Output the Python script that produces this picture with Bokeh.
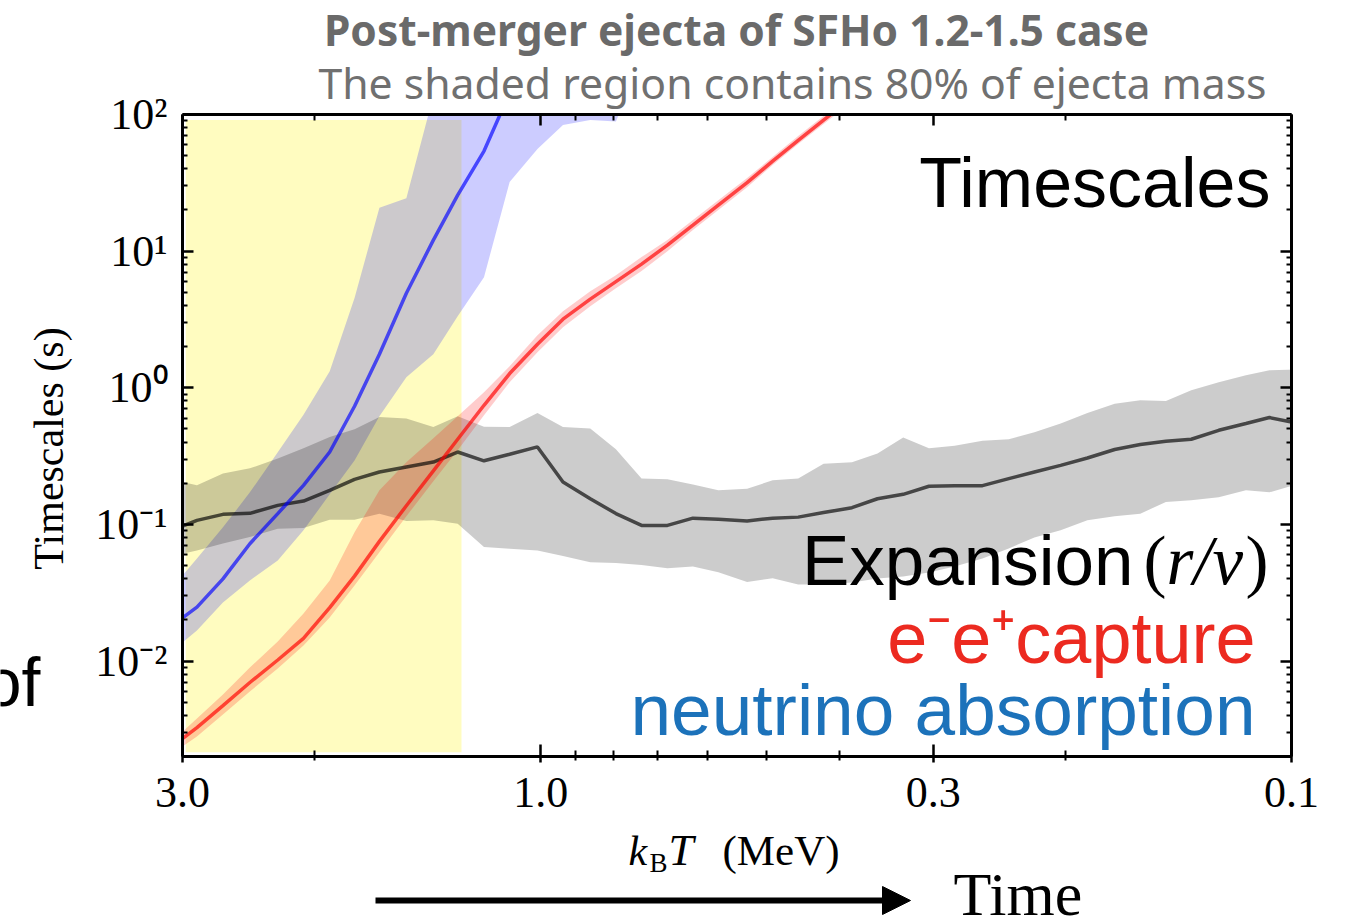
import math
from bokeh.plotting import figure
from bokeh.models import (Range1d, FixedTicker, CustomJSTickFormatter, LogAxis,
                          Label, Arrow, NormalHead)
from bokeh.embed import file_html
from bokeh.resources import INLINE

# ---------------- data (kT in MeV, timescales in s) ----------------
T_grid = [3.0, 2.87, 2.65, 2.44, 2.24, 2.07, 1.91, 1.77, 1.64, 1.51,
          1.39, 1.29, 1.19, 1.10, 1.01, 0.934, 0.859, 0.794, 0.734, 0.678,
          0.627, 0.580, 0.531, 0.491, 0.454, 0.420, 0.385, 0.356, 0.329, 0.304,
          0.281, 0.258, 0.238, 0.220, 0.203, 0.187, 0.172, 0.159, 0.147, 0.136,
          0.125, 0.115, 0.107, 0.0985]

expansion_mid = [0.0972, 0.1070, 0.1184, 0.1204, 0.1378, 0.1482, 0.1774, 0.2137, 0.2416, 0.2630,
                 0.2860, 0.3385, 0.292, 0.326, 0.369, 0.204, 0.154, 0.120, 0.0983, 0.0983,
                 0.111, 0.109, 0.106, 0.111, 0.113, 0.122, 0.1325, 0.154, 0.166, 0.190,
                 0.192, 0.192, 0.216, 0.242, 0.2705, 0.306, 0.353, 0.384, 0.406, 0.420,
                 0.488, 0.547, 0.605, 0.552]
expansion_hi = [0.204, 0.193, 0.236, 0.257, 0.304, 0.360, 0.436, 0.497, 0.611, 0.595,
                0.516, 0.618, 0.518, 0.516, 0.654, 0.516, 0.503, 0.354, 0.217, 0.214,
                0.196, 0.1775, 0.1826, 0.210, 0.217, 0.278, 0.2845, 0.330, 0.4316, 0.360,
                0.376, 0.409, 0.4195, 0.472, 0.547, 0.654, 0.763, 0.810, 0.800, 0.959,
                1.097, 1.235, 1.343, 1.36]
expansion_lo = [0.0610, 0.0645, 0.0726, 0.0807, 0.0930, 0.0940, 0.1082, 0.1082, 0.1198, 0.1057,
                0.1070, 0.1012, 0.0682, 0.0664, 0.0645, 0.0586, 0.0529, 0.0522, 0.0505, 0.0478,
                0.0492, 0.0447, 0.0378, 0.0404, 0.0363, 0.0363, 0.0376, 0.0402, 0.0416, 0.0445,
                0.0492, 0.0563, 0.0667, 0.0803, 0.0904, 0.1070, 0.1145, 0.1198, 0.1457, 0.1499,
                0.1577, 0.1775, 0.1715, 0.196]

capture_T = T_grid[:27]
capture_mid = [0.002705, 0.003257, 0.00472, 0.00696, 0.01017, 0.01462, 0.0246, 0.0418, 0.0751, 0.1369,
               0.2466, 0.4195, 0.744, 1.270, 2.083, 3.176, 4.45, 5.98, 8.03, 11.07,
               15.5, 21.7, 31.7, 45.6, 64.7, 91.1, 132.7]
capture_hi = [0.00304, 0.00379, 0.00568, 0.00896, 0.0139, 0.0223, 0.0389, 0.0874, 0.1774, 0.2845,
              0.4266, 0.618, 0.927, 1.437, 2.424, 3.634, 5.09, 6.67, 9.04, 12.04,
              16.9, 23.6, 34.3, 48.8, 69.6, 97.5, 141.0]
capture_lo = [0.002364, 0.0028, 0.00406, 0.00598, 0.00881, 0.01299, 0.0208, 0.0357, 0.0624, 0.1145,
              0.2065, 0.3484, 0.629, 1.097, 1.820, 2.775, 3.955, 5.36, 7.14, 9.98,
              14.25, 19.97, 29.4, 42.7, 60.8, 85.1, 123.5]

absorb_T = T_grid[:14]
absorb_mid = [0.0207, 0.0248, 0.0399, 0.0722, 0.1198, 0.193, 0.3385, 0.732, 1.76, 4.92,
              12.04, 25.7, 54.0, 143.7]
absorb_band_T = T_grid[:19]
absorb_hi = [0.0423, 0.0563, 0.0951, 0.1715, 0.337, 0.634, 1.32, 4.53, 20.8, 24.4,
             137.0, 250.0, 250.0, 250.0, 250.0, 250.0, 250.0, 250.0, 250.0]
absorb_lo = [0.01366, 0.01673, 0.0268, 0.0389, 0.0545, 0.0904, 0.166, 0.294, 0.618, 1.194,
             1.76, 3.34, 6.45, 32.0, 55.9, 83.8, 91.1, 88.8, 250.0]

shade_T = [2.97, 1.275]          # 80% ejecta-mass temperature window
shade_t = [0.00215, 91.0]

x_major = [3.0, 1.0, 0.3, 0.1]
x_labels = ["3.0", "1.0", "0.3", "0.1"]
x_minor = [2.0, 0.9, 0.8, 0.7, 0.6, 0.5, 0.4, 0.2]
y_major = [1e-2, 1e-1, 1e0, 1e1, 1e2]
y_labels = ["10\u207b\u00b2", "10\u207b\u00b9", "10\u2070", "10\u00b9", "10\u00b2"]
y_minor = [m * 10.0 ** e for e in range(-3, 2) for m in range(2, 10)]

# ---------------- geometry ----------------
X0, X1 = 3.0, 0.1          # axis limits (kT, reversed)
Y0, Y1 = 2e-3, 1e2         # axis limits (s)
W, H = 1345, 920
FW, FH = 1109, 642         # plot box size in px
FL, FT = 182, 114          # plot box left/top in px

def tx(px):
    return 10 ** (math.log10(X0) + (px - FL) / FW * (math.log10(X1) - math.log10(X0)))

def ty(py):
    return 10 ** (math.log10(Y1) - (py - FT) / FH * (math.log10(Y1) - math.log10(Y0)))

# frame covers the whole canvas so texts around the box are not clipped
p = figure(width=W, height=H, x_axis_type="log", y_axis_type="log",
           x_range=Range1d(tx(0), tx(W)), y_range=Range1d(ty(H), ty(0)),
           output_backend="svg", toolbar_location=None, min_border=0)
p.grid.visible = False
p.outline_line_color = None
p.background_fill_color = "white"
p.border_fill_color = "white"

xt = FixedTicker(ticks=x_major, minor_ticks=x_minor)
yt = FixedTicker(ticks=y_major, minor_ticks=y_minor)
fmt_code = """
for (let i = 0; i < vals.length; i++) {
  if (Math.abs(tick - vals[i]) <= 1e-6 * Math.abs(vals[i])) return labs[i];
}
return "";
"""
xfmt = CustomJSTickFormatter(args=dict(vals=x_major, labs=x_labels), code=fmt_code)
yfmt = CustomJSTickFormatter(args=dict(vals=y_major, labs=y_labels), code=fmt_code)
blank = CustomJSTickFormatter(code="return '';")

def style(ax, mi, mo, ni, no):
    ax.axis_line_width = 3
    ax.axis_line_color = "black"
    ax.major_tick_line_width = 2.5
    ax.minor_tick_line_width = 2
    ax.major_tick_line_color = "black"
    ax.minor_tick_line_color = "black"
    ax.major_tick_in = mi
    ax.major_tick_out = mo
    ax.minor_tick_in = ni
    ax.minor_tick_out = no
    ax.major_label_text_font = "Liberation Serif"
    ax.major_label_text_font_size = "44px"
    ax.major_label_text_color = "black"
    ax.axis_label = None

xa = p.xaxis[0]
xa.ticker = xt
xa.formatter = xfmt
xa.fixed_location = Y0
xa.bounds = (X1, X0)
style(xa, 12, 6, 6, 4)
xa.major_label_standoff = 15

ya = p.yaxis[0]
ya.ticker = yt
ya.formatter = yfmt
ya.fixed_location = X0
ya.bounds = (Y0, Y1)
style(ya, 11, 0, 5, 0)
ya.major_label_standoff = 15

top = LogAxis(ticker=xt, formatter=blank, fixed_location=Y1, bounds=(X1, X0))
style(top, 11, 0, 6, 0)
p.add_layout(top, "above")
right = LogAxis(ticker=yt, formatter=blank, fixed_location=X1, bounds=(Y0, Y1))
style(right, 11, 0, 5, 0)
p.add_layout(right, "right")

# ---------------- glyphs ----------------
p.quad(left=shade_T[0], right=shade_T[1], bottom=shade_t[0], top=shade_t[1],
       fill_color="#fffcc0", line_color=None)

def band(xs, hi, lo, color):
    p.patch(list(xs) + list(xs)[::-1], list(hi) + list(lo)[::-1],
            fill_color=color, fill_alpha=0.2, line_color=None)

band(absorb_band_T, absorb_hi, absorb_lo, "#0000ff")
band(T_grid, expansion_hi, expansion_lo, "#000000")
band(capture_T, capture_hi, capture_lo, "#ff0000")

p.line(T_grid, expansion_mid, line_color="#000000", line_alpha=0.66, line_width=3.5)
p.line(absorb_T, absorb_mid, line_color="#0000ff", line_alpha=0.66, line_width=3.5)
p.line(capture_T, capture_mid, line_color="#ff0000", line_alpha=0.68, line_width=3.5)

# white masks: clip everything drawn outside the axes box
OUT_L, OUT_R, OUT_B, OUT_T = tx(-200), tx(W + 200), ty(H + 200), ty(-200)
p.quad(left=[OUT_L, OUT_L, X1, OUT_L], right=[OUT_R, OUT_R, OUT_R, X0],
       bottom=[Y1, OUT_B, OUT_B, OUT_B], top=[OUT_T, Y0, OUT_T, OUT_T],
       fill_color="white", line_color=None)

# ---------------- texts ----------------
SHIFT = 0.35   # rendered alphabetic baseline sits this many em lower

def lab(px, py, text, font, size, color="black", align="left", style_="normal",
        angle=0.0, baseline="alphabetic"):
    yy = py - SHIFT * size if baseline == "alphabetic" else py
    p.add_layout(Label(x=tx(px), y=ty(yy), text=text, text_font=font,
                       text_font_size=f"{size}px", text_color=color,
                       text_align=align, text_baseline=baseline,
                       text_font_style=style_, angle=angle))

lab(736, 44, "Post-merger ejecta of SFHo 1.2-1.5 case", "Noto Sans", 42.5,
    color="#6a6a6a", align="center", style_="bold")
lab(792, 97, "The shaded region contains 80% of ejecta mass", "Noto Sans", 42.7,
    color="#707070", align="center")

lab(1270, 207, "Timescales", "Liberation Sans", 70, align="right")
lab(1133, 585, "Expansion", "Liberation Sans", 71, align="right")
lab(1143, 585, "(", "Liberation Serif", 69)
lab(1166, 585, "r/v", "Liberation Serif", 69, style_="italic")
lab(1245, 585, ")", "Liberation Serif", 69)
lab(1255, 663, "e\u207be\u207acapture", "Liberation Sans", 72, color="#ec2a20", align="right")
lab(1255, 735, "neutrino absorption", "Liberation Sans", 73, color="#1c72ba", align="right")
lab(40, 705, "of", "Liberation Sans", 68, align="right")

# axis titles
lab(628, 865, "k", "Liberation Serif", 42, style_="italic")
lab(649, 872, "B", "Liberation Serif", 27)
lab(668, 865, "T", "Liberation Serif", 45, style_="italic")
lab(722, 865, "(MeV)", "Liberation Serif", 43)
lab(48, 448, "Timescales (s)", "Liberation Serif", 42, align="center",
    angle=math.pi / 2, baseline="middle")

# time arrow
p.add_layout(Arrow(end=NormalHead(size=28, fill_color="black", line_color="black"),
                   x_start=tx(375), y_start=ty(900), x_end=tx(910), y_end=ty(900),
                   line_width=6, line_color="black"))
lab(953, 915, "Time", "Liberation Serif", 62)

open("out.html", "w").write(file_html(p, INLINE))
